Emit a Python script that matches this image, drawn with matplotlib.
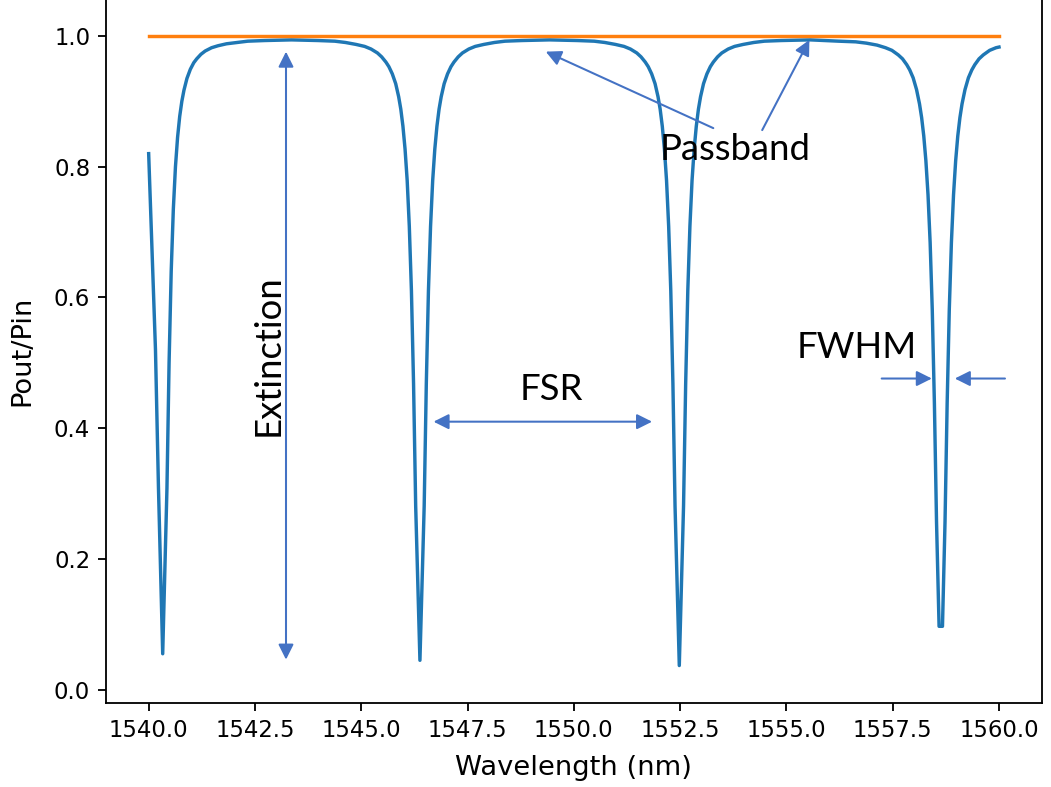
""" Ring resonator transmission spectrum with annotated figures of merit
(extinction, FSR, FWHM, passband).
"""
from matplotlib import pyplot as plt

DPI = 164
WIDTH, HEIGHT = 1051, 787

ARROW_COLOR = "#4472C4"
LABEL_FONT = ["Lato", "Open Sans", "DejaVu Sans"]

# Transmission (Pout/Pin vs wavelength in nm)
wavelength_nm = [
    # first resonance
    1540.00, 1540.16, 1540.23, 1540.33, 1540.43, 1540.48, 1540.53, 1540.58,
    1540.63, 1540.68, 1540.73, 1540.78, 1540.83, 1540.90, 1540.98, 1541.06,
    1541.13, 1541.23, 1541.33, 1541.48, 1541.63, 1541.83, 1542.08, 1542.33,
    1542.73, 1543.36,
    # second resonance
    1543.98, 1544.38, 1544.63, 1544.88, 1545.08, 1545.23, 1545.38, 1545.48,
    1545.58, 1545.65, 1545.73, 1545.81, 1545.88, 1545.93, 1545.98, 1546.03,
    1546.08, 1546.13, 1546.18, 1546.23, 1546.28, 1546.38, 1546.48, 1546.53,
    1546.58, 1546.63, 1546.68, 1546.73, 1546.78, 1546.83, 1546.88, 1546.95,
    1547.03, 1547.11, 1547.18, 1547.28, 1547.38, 1547.53, 1547.68, 1547.88,
    1548.13, 1548.38, 1548.78, 1549.43,
    # third resonance
    1550.08, 1550.48, 1550.73, 1550.98, 1551.18, 1551.33, 1551.48, 1551.58,
    1551.68, 1551.75, 1551.83, 1551.91, 1551.98, 1552.03, 1552.08, 1552.13,
    1552.18, 1552.23, 1552.28, 1552.33, 1552.38, 1552.48, 1552.58, 1552.63,
    1552.68, 1552.73, 1552.78, 1552.83, 1552.88, 1552.93, 1552.98, 1553.05,
    1553.13, 1553.21, 1553.28, 1553.38, 1553.48, 1553.63, 1553.78, 1553.98,
    1554.23, 1554.48, 1554.88, 1555.56,
    # fourth resonance
    1556.23, 1556.63, 1556.88, 1557.13, 1557.33, 1557.48, 1557.63, 1557.73,
    1557.83, 1557.90, 1557.98, 1558.06, 1558.13, 1558.18, 1558.23, 1558.28,
    1558.33, 1558.38, 1558.43, 1558.48, 1558.53, 1558.59, 1558.67, 1558.73,
    1558.78, 1558.83, 1558.88, 1558.93, 1558.98, 1559.03, 1559.08, 1559.13,
    1559.20, 1559.28, 1559.36, 1559.43, 1559.53, 1559.63, 1559.78, 1559.93,
    1560.00,
]
transmission = [
    # first resonance
    0.820, 0.520, 0.310, 0.055, 0.308, 0.500, 0.640, 0.735,
    0.800, 0.845, 0.877, 0.900, 0.917, 0.935, 0.949, 0.959,
    0.965, 0.972, 0.977, 0.982, 0.985, 0.988, 0.990, 0.992,
    0.993, 0.994,
    # second resonance
    0.993, 0.992, 0.990, 0.987, 0.984, 0.980, 0.974, 0.968,
    0.960, 0.953, 0.942, 0.927, 0.907, 0.888, 0.862, 0.827,
    0.779, 0.709, 0.610, 0.468, 0.281, 0.045, 0.281, 0.468,
    0.610, 0.709, 0.779, 0.827, 0.862, 0.888, 0.907, 0.927,
    0.942, 0.953, 0.960, 0.968, 0.974, 0.980, 0.984, 0.987,
    0.990, 0.992, 0.993, 0.994,
    # third resonance
    0.993, 0.992, 0.990, 0.987, 0.984, 0.980, 0.974, 0.968,
    0.960, 0.953, 0.942, 0.927, 0.907, 0.888, 0.862, 0.827,
    0.779, 0.709, 0.610, 0.468, 0.281, 0.037, 0.281, 0.468,
    0.610, 0.709, 0.779, 0.827, 0.862, 0.888, 0.907, 0.927,
    0.942, 0.953, 0.960, 0.968, 0.974, 0.980, 0.984, 0.987,
    0.990, 0.992, 0.993, 0.994,
    # fourth resonance
    0.992, 0.991, 0.989, 0.986, 0.982, 0.978, 0.971, 0.965,
    0.956, 0.948, 0.936, 0.918, 0.896, 0.875, 0.847, 0.809,
    0.757, 0.684, 0.581, 0.438, 0.257, 0.097, 0.097, 0.257,
    0.438, 0.581, 0.684, 0.757, 0.809, 0.847, 0.875, 0.896,
    0.918, 0.936, 0.948, 0.956, 0.965, 0.971, 0.978, 0.982,
    0.983,
]

# Input power reference (flat line at 1)
reference_nm = [1540.0, 1560.0]
reference_level = [1.0, 1.0]


def arrow(ax, start, end, both=False):
    """ Draws a thin blue arrow pointing from start to end """
    style = "<|-|>" if both else "-|>"
    ax.annotate("", xy=end, xytext=start,
                arrowprops=dict(arrowstyle=style, color=ARROW_COLOR,
                                lw=0.9, mutation_scale=14,
                                shrinkA=0, shrinkB=0))


def label(ax, x, y, text, **kwargs):
    """ Black annotation text in the PowerPoint-like face """
    ax.text(x, y, text, family=LABEL_FONT, fontsize=16, color="black",
            ha="center", va="center", **kwargs)


fig = plt.figure(figsize=(WIDTH / DPI, HEIGHT / DPI), dpi=DPI)
# The top spine sits just outside the canvas, as in the cropped original
ax = fig.add_axes([0.101, 0.107, 0.890, 0.8955])

ax.plot(wavelength_nm, transmission, color="C0", lw=1.5)
ax.plot(reference_nm, reference_level, color="C1", lw=1.5)

ax.set_xlim(1539.0, 1561.0)
ax.set_ylim(-0.02, 1.058)
ax.set_xticks([1540.0, 1542.5, 1545.0, 1547.5, 1550.0,
               1552.5, 1555.0, 1557.5, 1560.0])
ax.set_xlabel("Wavelength (nm)", fontsize=12, labelpad=6)
ax.set_ylabel("Pout/Pin", fontsize=12, labelpad=8)

# Extinction
arrow(ax, (1543.23, 0.046), (1543.23, 0.976), both=True)
label(ax, 1542.81, 0.512, "Extinction", rotation=90)

# Free spectral range
arrow(ax, (1546.70, 0.410), (1551.84, 0.410), both=True)
label(ax, 1549.48, 0.459, "FSR")

# Passband pointers
arrow(ax, (1553.28, 0.859), (1549.34, 0.976))
arrow(ax, (1554.43, 0.856), (1555.54, 0.994))
label(ax, 1553.80, 0.826, "Passband")

# Full width at half maximum
arrow(ax, (1557.24, 0.476), (1558.42, 0.476))
arrow(ax, (1560.14, 0.476), (1558.96, 0.476))
label(ax, 1556.65, 0.523, "FWHM")

fig.savefig("out.png", dpi=DPI)
